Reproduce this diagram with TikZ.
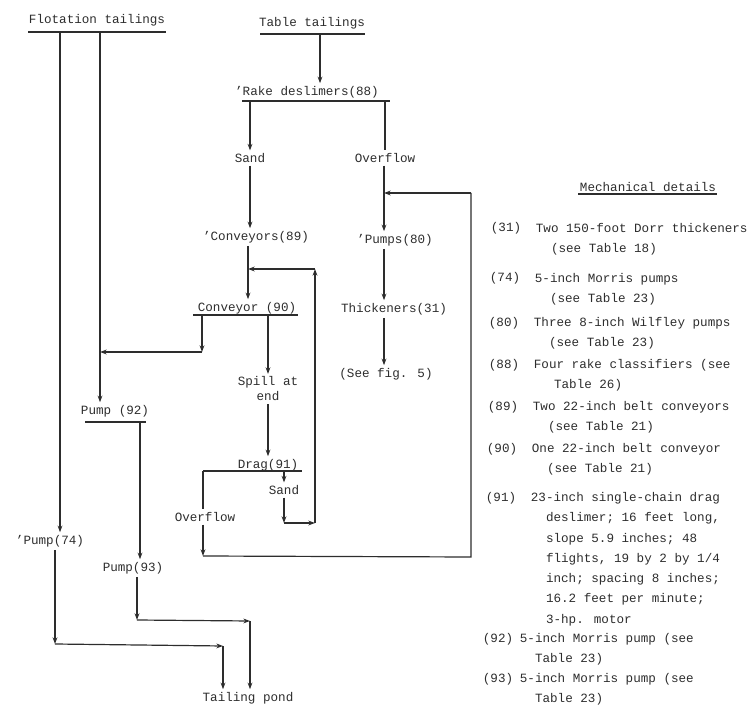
\documentclass[tikz,border=0pt]{standalone}
\usepackage{fontspec}
\setmainfont{Liberation Mono}
\usepackage{tikz}
\usetikzlibrary{arrows.meta}
\definecolor{inkgray}{RGB}{45,45,45}

\begin{document}
\begin{tikzpicture}[x=0.0265cm, y=-0.0265cm,
  every node/.style={font=\fontsize{9.5}{15.3}\selectfont, inner sep=2pt, text=inkgray},
  arr/.style={-{Stealth[length=5pt, width=3.6pt]}, line width=0.9pt, color=inkgray},
  flow/.style={line width=0.9pt, color=inkgray},
  num/.style={anchor=base west},
  note/.style={anchor=north west, inner ysep=0pt, align=left}
]
\useasboundingbox (0,0) rectangle (750,723);

% Feeds
\node (flot) at (97,20) {Flotation tailings};
\coordinate (flotL) at (28,32);
\coordinate (flotR) at (166,32);
\coordinate (fA) at (60,32);
\coordinate (fB) at (100,32);
\draw[flow] (flotL) -- (flotR);

\node (table) at (312,23) {Table tailings};
\coordinate (tabL) at (260,34);
\coordinate (tabR) at (365,34);
\coordinate (tabO) at (320,34);
\draw[flow] (tabL) -- (tabR);

% Rake deslimers
\node (rake) at (307,92) {'Rake deslimers(88)};
\coordinate (rakeL) at (242,101);
\coordinate (rakeR) at (390,101);
\coordinate (rkS) at (250,101);
\coordinate (rkO) at (385,101);
\draw[flow] (rakeL) -- (rakeR);

\node (sand1) at (250,158) {Sand};
\node (over1) at (385,158) {Overflow};

% Sand line
\node (conv89) at (256,237) {'Conveyors(89)};
\coordinate (j89) at (248,269);
\node (conv90) at (247,308) {Conveyor (90)};
\coordinate (c90L) at (202,315);
\coordinate (c90R) at (268,315);
\coordinate (c90c) at (202,352);
\coordinate (j92) at (100,352);
\draw[flow] (193,315) -- (298,315);

\node[align=center, font=\fontsize{9.5}{11.3}\selectfont] (spill) at (268,389) {Spill at\\end};
\node (drag) at (268,465) {Drag(91)};
\coordinate (dgL) at (203,471);
\coordinate (dgS) at (284,471);
\draw[flow] (dgL) -- (302,471);
\node (sand2) at (284,490) {Sand};
\coordinate (s2c) at (284,523);
\coordinate (s2d) at (315,523);
\coordinate (s2e) at (315,269);
\node (over2) at (205,517) {Overflow};
\coordinate (o2c) at (203,556);
\coordinate (o2d) at (471,557);
\coordinate (o2e) at (471,193);

% Overflow line
\coordinate (j80) at (384,193);
\node (pumps80) at (395,240) {'Pumps(80)};
\node (thick) at (394,309) {Thickeners(31)};
\node (seefig) at (386,374) {(See fig. 5)};

% Pumps to pond
\node (pump92) at (115,411) {Pump (92)};
\coordinate (p92L) at (85,422);
\coordinate (p92R) at (146,422);
\coordinate (p92o) at (140,422);
\draw[flow] (p92L) -- (p92R);
\node (pump93) at (133,568) {Pump(93)};
\coordinate (p93c) at (137,620);
\coordinate (p93d) at (250,621);
\node (pump74) at (50,541) {'Pump(74)};
\coordinate (p74c) at (55,644);
\coordinate (p74d) at (223,646);
\node (pond) at (248,698) {Tailing pond};

% Arrows
\draw[arr] (tabO) -- (tabO |- rake.north);
\draw[arr] (rkS) -- (rkS |- sand1.north);
\draw[flow] (rkO) -- (rkO |- over1.north);
\draw[arr] (sand1.south) -- (sand1.south |- conv89.north);
\draw[arr] (j89 |- conv89.south) -- (j89 |- conv90.north);
\draw[arr] (c90L) -- (c90c);
\draw[arr] (c90c) -- (j92);
\draw[arr] (c90R) -- (c90R |- spill.north);
\draw[arr] (spill.south) -- (spill.south |- drag.north);
\draw[arr] (dgS) -- (sand2.north);
\draw[arr] (sand2.south) -- (s2c);
\draw[arr] (s2c) -- (s2d);
\draw[arr] (s2d) -- (s2e);
\draw[arr] (s2e) -- (j89);
\draw[flow] (dgL) -- (dgL |- over2.north);
\draw[arr] (dgL |- over2.south) -- (o2c);
\draw[flow] (o2c) -- (o2d) -- (o2e);
\draw[arr] (o2e) -- (j80);

\draw[arr] (j80 |- over1.south) -- (j80 |- pumps80.north);
\draw[arr] (j80 |- pumps80.south) -- (j80 |- thick.north);
\draw[arr] (j80 |- thick.south) -- (j80 |- seefig.north);

\draw[arr] (fB) -- (fB |- pump92.north);
\draw[arr] (p92o) -- (p92o |- pump93.north);
\draw[arr] (p93c |- pump93.south) -- (p93c);
\draw[arr] (p93c) -- (p93d);
\draw[arr] (p93d) -- (p93d |- pond.north);

\draw[arr] (fA) -- (fA |- pump74.north);
\draw[arr] (p74c |- pump74.south) -- (p74c);
\draw[arr] (p74c) -- (p74d);
\draw[arr] (p74d) -- (p74d |- pond.north);

% Mechanical details
\node (mech) at (648,187) {Mechanical details};
\draw[flow] (578,194) -- (717,194);

\node[num] (n31) at (488,232) {(31)};
\node[note] (d31) at (533,218) {\strut Two 150-foot Dorr thickeners\\\hspace*{1.2em}(see Table 18)};
\node[num] (n74) at (487,282) {(74)};
\node[note] (d74) at (532,268) {\strut 5-inch Morris pumps\\\hspace*{1.2em}(see Table 23)};
\node[num] (n80) at (486,326) {(80)};
\node[note] (d80) at (531,312) {\strut Three 8-inch Wilfley pumps\\\hspace*{1.2em}(see Table 23)};
\node[num] (n88) at (486,368) {(88)};
\node[note] (d88) at (531,354) {\strut Four rake classifiers (see\\\hspace*{1.6em}Table 26)};
\node[num] (n89) at (485,410) {(89)};
\node[note] (d89) at (530,396) {\strut Two 22-inch belt conveyors\\\hspace*{1.2em}(see Table 21)};
\node[num] (n90) at (484,452) {(90)};
\node[note] (d90) at (529,438) {\strut One 22-inch belt conveyor\\\hspace*{1.2em}(see Table 21)};
\node[num] (n91) at (483,501) {(91)};
\node[note] (d91) at (528,487) {\strut 23-inch single-chain drag\\\hspace*{1.2em}deslimer; 16 feet long,\\\hspace*{1.2em}slope 5.9 inches; 48\\\hspace*{1.2em}flights, 19 by 2 by 1/4\\\hspace*{1.2em}inch; spacing 8 inches;\\\hspace*{1.2em}16.2 feet per minute;\\\hspace*{1.2em}3-hp. motor};
\node[num] (n92) at (480,642) {(92)};
\node[note] (d92) at (517,628) {\strut 5-inch Morris pump (see\\\hspace*{1.2em}Table 23)};
\node[num] (n93) at (480,682) {(93)};
\node[note] (d93) at (517,668) {\strut 5-inch Morris pump (see\\\hspace*{1.2em}Table 23)};

\end{tikzpicture}
\end{document}
